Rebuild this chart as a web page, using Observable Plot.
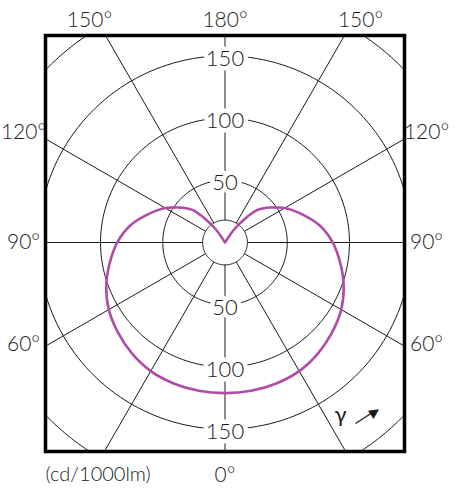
<!DOCTYPE html>
<html>
<head>
<meta charset="utf-8">
<script src="https://cdn.jsdelivr.net/npm/d3@7"></script>
<script src="https://cdn.jsdelivr.net/npm/@observablehq/plot@0.6"></script>
<style>
  html, body { margin: 0; padding: 0; background: #fff; }
  #chart svg { display: block; }
</style>
</head>
<body>
<div id="chart"></div>
<script>
// ---- data ----
const gammaDeg  = [0, 10, 20, 30, 40, 50, 60, 70, 80, 90, 100, 110, 120, 125, 130, 135, 140, 145, 150];
const intensity = [121, 121, 120.5, 119.3, 116.3, 112.3, 107.8, 101.5, 94, 86.6, 77.5, 66, 55.5, 49, 43.5, 37, 25, 13, 0];
const ringValues = [50, 100, 150, 200];
const innerRing = 18;
const ringLabels = [50, 100, 150];
const spokeAngles = [0, 30, 60, 90, 120, 150, 180, 210, 240, 270, 300, 330];
const angleLabelAngles = [-150, 180, 150, -120, 120, -90, 90, -60, 60, 0];
const unitLabel = "(cd/1000lm)";
const gammaLabel = "γ";

// ---- layout ----
const W = 456, H = 488;
const M = {l: 45, r: 52, t: 35, b: 37};
const xDom = [-144.2, 144.2], yDom = [-167.9, 166.3];
const k = (W - M.l - M.r) / (xDom[1] - xDom[0]); // px per unit
const rad = d => d * Math.PI / 180;
const px = (g, r) => r * Math.sin(rad(g));   // gamma 0 = down, 180 = up
const py = (g, r) => -r * Math.cos(rad(g));

// curve: right half from 150 down to 0, then left half 0 up to 150
const curvePts = [];
for (let i = gammaDeg.length - 1; i >= 0; i--) curvePts.push({x: px(gammaDeg[i], intensity[i]), y: py(gammaDeg[i], intensity[i])});
for (let i = 1; i < gammaDeg.length; i++) curvePts.push({x: px(-gammaDeg[i], intensity[i]), y: py(-gammaDeg[i], intensity[i])});

// rings
const ringPts = [];
for (const v of [innerRing, ...ringValues]) {
  for (let a = 0; a <= 360; a += 2) ringPts.push({ring: v, x: px(a, v), y: py(a, v)});
}

const ringLabelData = ringLabels.flatMap(v => [{v, y: v}, {v, y: -v}]);

// angle labels placed just outside the frame along each spoke
const angleLabelData = angleLabelAngles.map(a => {
  const sx = Math.sin(rad(a)), sy = -Math.cos(rad(a));
  const tx = Math.abs(sx) > 1e-6 ? (sx > 0 ? xDom[1] / sx : xDom[0] / sx) : Infinity;
  const ty = Math.abs(sy) > 1e-6 ? (sy > 0 ? yDom[1] / sy : yDom[0] / sy) : Infinity;
  const t = Math.min(tx, ty);
  let ox = 0, oy = 0;
  if (tx < ty) { ox = Math.sign(sx) * 22; oy = sy > 0.1 ? 7 : (sy < -0.1 ? 2 : 0); }
  else if (sy > 0) { oy = 15; ox = Math.abs(sx) > 0.01 ? Math.sign(sx) * 16 : 0; }
  else { oy = -24; }
  return {text: `${Math.abs(a)}°`, x: t * sx + ox / k, y: t * sy + oy / k};
});

// gamma arrow, relative to the bottom-right frame corner (px offsets)
const cx = (d) => xDom[1] + d / k, cy = (u) => yDom[0] + u / k;

const font = "Lato, 'Open Sans', sans-serif";
const chart = Plot.plot({
  width: W, height: H,
  marginLeft: M.l, marginRight: M.r, marginTop: M.t, marginBottom: M.b,
  x: {domain: xDom, axis: null},
  y: {domain: yDom, axis: null},
  style: {fontFamily: font, background: "#fff", color: "#1a1a1a"},
  marks: [
    Plot.line(ringPts, {x: "x", y: "y", z: "ring", stroke: "#1a1a1a", strokeWidth: 1, clip: true}),
    Plot.link(spokeAngles, {
      x1: a => px(a, innerRing), y1: a => py(a, innerRing),
      x2: a => px(a, 320), y2: a => py(a, 320),
      stroke: "#1a1a1a", strokeWidth: 1, clip: true
    }),
    Plot.text(ringLabelData, {x: 0, y: "y", text: d => String(d.v), fill: "#1a1a1a", stroke: "white", strokeWidth: 9, fontSize: 22, fontWeight: 300, dy: 3}),
    Plot.line(curvePts, {x: "x", y: "y", stroke: "#b04ca8", strokeWidth: 2.6, curve: "catmull-rom"}),
    Plot.text(angleLabelData, {x: "x", y: "y", text: "text", fill: "#1a1a1a", fontSize: 21, fontWeight: 300}),
    Plot.text([unitLabel], {frameAnchor: "bottom-left", dy: 29, textAnchor: "start", fill: "#1a1a1a", fontSize: 20, fontWeight: 300}),
    Plot.text([gammaLabel], {frameAnchor: "bottom-right", dx: -58, dy: -30, fill: "#1a1a1a", fontSize: 22}),
    Plot.link([0], {x1: () => cx(-49), y1: () => cy(28), x2: () => cx(-32), y2: () => cy(39), stroke: "#1a1a1a", strokeWidth: 1.3}),
    Plot.text(["▲"], {x: () => cx(-29), y: () => cy(40), rotate: 56, fill: "#1a1a1a", fontSize: 13, fontFamily: "DejaVu Sans"}),
    Plot.frame({stroke: "#000", strokeWidth: 3.5})
  ]
});
document.getElementById("chart").appendChild(chart);
</script>
</body>
</html>
